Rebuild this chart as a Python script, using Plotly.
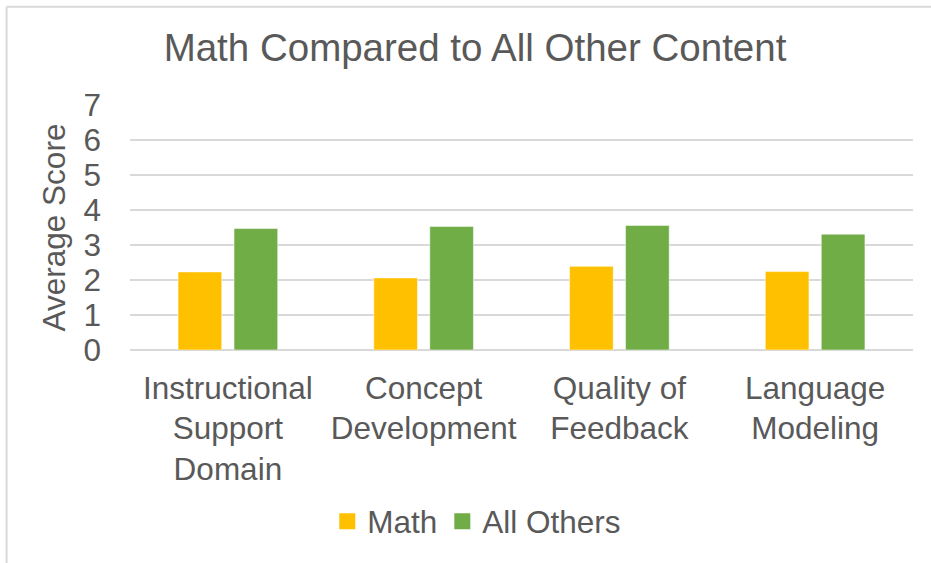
import plotly.graph_objects as go

categories = ["Instructional<br>Support<br>Domain", "Concept<br>Development", "Quality of<br>Feedback", "Language<br>Modeling"]
math_scores = [2.23, 2.06, 2.39, 2.24]
other_scores = [3.47, 3.53, 3.56, 3.31]
y_ticks = [0, 1, 2, 3, 4, 5, 6, 7]
series_names = ["Math", "All Others"]
series_colors = ["#FFC000", "#70AD47"]

TXT = "#595959"
FONT = "Liberation Sans, Arial, sans-serif"
FS = 31.5

fig = go.Figure()
for name, vals, col in zip(series_names, [math_scores, other_scores], series_colors):
    fig.add_trace(go.Bar(x=categories, y=vals, name=name, showlegend=False,
                         marker=dict(color=col, line=dict(color="rgba(255,255,255,0.5)", width=1))))
# legend-only entries with larger square swatches
for name, col in zip(series_names, series_colors):
    fig.add_trace(go.Scatter(x=[None], y=[None], mode="markers", name=name,
                             marker=dict(symbol="square", size=16, color=col)))

W, H = 931, 563
L, R, T, B = 130, 17.5, 105, 212.5
pw = W - L - R
ph = H - T - B

def px2x(p):
    return (p - L) / pw

def py2y(p):
    return (H - B - p) / ph

fig.update_layout(
    width=W, height=H,
    margin=dict(l=L, r=R, t=T, b=B, autoexpand=False),
    paper_bgcolor="white", plot_bgcolor="white",
    font=dict(family=FONT, color=TXT, size=FS),
    title=dict(text="Math Compared to All Other Content", x=475 / W, xanchor="center",
               y=1 - 48 / H, yanchor="middle", font=dict(size=38.5, color=TXT, family=FONT)),
    barmode="group", bargap=0.428, bargroupgap=0.22,
    showlegend=True,
    legend=dict(orientation="h", x=px2x(477), xanchor="center", y=py2y(522), yanchor="middle",
                font=dict(size=FS, color=TXT), itemwidth=30, itemsizing="trace",
                traceorder="normal", bgcolor="rgba(0,0,0,0)"),
    xaxis=dict(showgrid=False, showline=False, zeroline=False, ticks="",
               tickfont=dict(size=FS, color=TXT), ticklabelstandoff=16),
    yaxis=dict(range=[0, 7], tickvals=y_ticks, showgrid=True, gridcolor="#d9d9d9", gridwidth=1.5,
               zeroline=True, zerolinecolor="#d9d9d9", zerolinewidth=1.5, showline=False,
               ticks="", ticklabelstandoff=28, tickfont=dict(size=FS, color=TXT),
               title=dict(text="Average Score", font=dict(size=FS, color=TXT), standoff=8)),
    shapes=[
        dict(type="line", xref="paper", yref="paper", x0=px2x(6.5), x1=px2x(6.5),
             y0=py2y(6.5), y1=py2y(H + 5), line=dict(color="#d9d9d9", width=2)),
        dict(type="line", xref="paper", yref="paper", x0=px2x(6.5), x1=px2x(W + 5),
             y0=py2y(6.5), y1=py2y(6.5), line=dict(color="#d9d9d9", width=2)),
    ],
)

fig.write_html("out.html", config={"displayModeBar": False},
               post_script="document.body.style.margin='0';document.body.style.overflow='hidden';")
